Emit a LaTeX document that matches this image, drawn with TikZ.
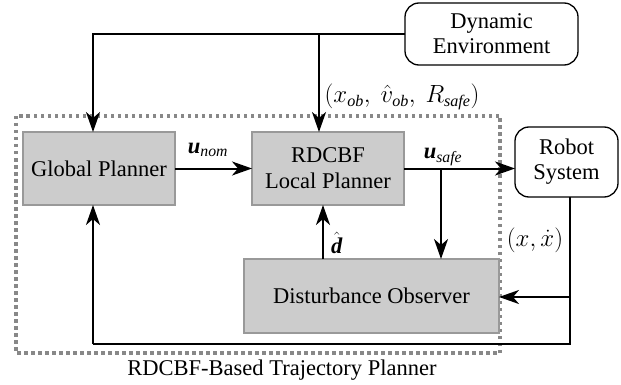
\documentclass[tikz,border=0pt]{standalone}
\usepackage{amsmath}
\usepackage{fontspec}
\setmainfont{Liberation Serif}
\usetikzlibrary{arrows.meta,calc}
\definecolor{boxfill}{HTML}{CCCCCC}
\definecolor{boxline}{HTML}{999999}
\definecolor{frameline}{HTML}{888888}
\tikzset{
  blk/.style={draw=boxline,line width=1.3pt,fill=boxfill,inner sep=0pt,outer sep=0pt,align=center,font=\fontsize{22.5}{26}\selectfont},
  rbox/.style={draw=black,line width=1.3pt,rounded corners=14pt,fill=white,inner sep=0pt,outer sep=0pt,align=center,font=\fontsize{22.5}{25}\selectfont},
  conn/.style={draw=black,line width=2pt},
  arr/.style={conn,-{Stealth[length=20pt,width=14pt,inset=6pt]}},
  lbl/.style={inner sep=0pt,font=\fontsize{22.5}{26}\selectfont},
  frame/.style={draw=frameline,line width=3.5pt,dash pattern=on 3.5pt off 3.5pt}
}
\begin{document}
\begin{tikzpicture}[x=1pt,y=-1pt]
\useasboundingbox (0,0) rectangle (621,385);
% dotted frame
\draw[frame] (16,116) rectangle (500,353);
% nodes
\node[rbox,minimum width=173pt,minimum height=62pt] (dyn) at (491.5,34) {Dynamic\\Environment};
\node[blk,minimum width=152pt,minimum height=73pt] (gp) at (99,168.5) {Global Planner};
\node[blk,minimum width=152pt,minimum height=73pt] (lp) at (328,168.5) {RDCBF\\Local Planner};
\node[rbox,minimum width=103pt,minimum height=70pt] (rob) at (566.5,162) {Robot\\System};
\node[blk,minimum width=255pt,minimum height=74pt] (dob) at (371.5,296) {Disturbance Observer};
% junction coordinates
\coordinate (jtop) at (319,34);
\coordinate (jgp) at (93,34);
\coordinate (jus) at (441,168);
\coordinate (jd) at (323,259);
\coordinate (jrob) at (570,197);
\coordinate (jdo) at (570,297);
\coordinate (jbr) at (570,344);
\coordinate (jbl) at (93,344);
% connectors
\draw[arr] (dyn.west) -- (jgp) -- (jgp |- gp.north);
\draw[arr] (jtop) -- (jtop |- lp.north);
\draw[arr] (gp.east) -- (lp.west);
\draw[arr] (lp.east) -- (lp.east -| rob.west);
\draw[arr] (jus) -- (jus |- dob.north);
\draw[arr] (jd) -- (jd |- lp.south);
\draw[conn] (jrob) -- (jbr) -- (jbl);
\draw[arr] (jbl) -- (jbl |- gp.south);
\draw[arr] (jdo) -- (jdo -| dob.east);
% labels
\node[lbl] (lnom) at (208,150) {$\textbf{\textit{u}}_{\mathit{nom}}$};
\node[lbl] (lsafe) at (443,157) {$\textbf{\textit{u}}_{\mathit{safe}}$};
\node[lbl,font=\fontsize{23}{26}\selectfont] (lob) at (402,97) {$(x_{\mathit{ob}},\ \hat{v}_{\mathit{ob}},\ R_{\mathit{safe}})$};
\node[lbl] (ld) at (337,243) {$\hat{\textbf{\textit{d}}}$};
\node[lbl,font=\fontsize{27}{30}\selectfont] (lx) at (535,240) {$(x,\dot{x})$};
\node[lbl] (cap) at (282,370) {RDCBF-Based Trajectory Planner};
\end{tikzpicture}
\end{document}
